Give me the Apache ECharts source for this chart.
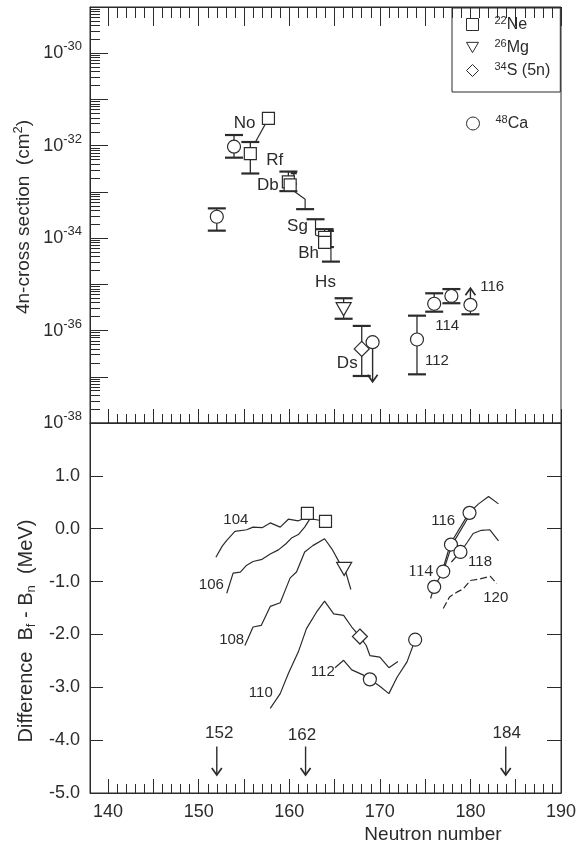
<!DOCTYPE html>
<html>
<head>
<meta charset="utf-8">
<script src="https://cdn.jsdelivr.net/npm/echarts@6/dist/echarts.min.js"></script>
<style>
html, body { margin: 0; padding: 0; background: #fff; }
#chart { width: 580px; height: 850px; }
</style>
</head>
<body>
<div id="chart"></div>
<script>
const INK = '#2b2b2b';
const FONT = '"Liberation Sans", Arial, sans-serif';
const SERIF = '"Liberation Serif", "Times New Roman", serif';

// ---- upper panel: 4n cross section (cm^2) vs neutron number ----
const ne22Top = [[155.7, 6.7e-33], [157.7, 3.9e-32], [159.9, 1.64e-33], [160.1, 1.42e-33], [163.9, 1.03e-34], [163.9, 8.1e-35]];
const mg26Top = [[166.0, 2.9e-36]];
const s34Top = [[168.0, 4.0e-37]];
const ca48Top = [[152.0, 2.9e-34], [153.9, 9.5e-33], [169.2, 5.6e-37], [174.1, 6.4e-37], [176.0, 3.8e-36], [177.9, 5.6e-36], [180.0, 3.6e-36]];
// error bars [N, low, high], caps at both ends
const errTop = [[152.0, 1.45e-34, 4.4e-34], [153.9, 5.5e-33, 1.7e-32], [155.7, 2.5e-33, 1.2e-32], [159.9, 1.04e-33, 2.75e-33],
  [166.0, 1.8e-36, 5.0e-36], [168.0, 1.04e-37, 1.26e-36], [174.1, 1.13e-37, 2.1e-36], [176.0, 2.56e-36, 6.4e-36], [177.9, 3.9e-36, 7.9e-36]];
const errTopSmall = [[160.5, 1.49e-33, 2.54e-33], [164.6, 6.4e-35, 1.43e-34]];
// joining lines and single caps
const linksTop = [
  [[157.7, 3.9e-32], [156.3, 1.23e-32]],
  [[160.5, 1.04e-33], [161.75, 6.95e-34], [161.75, 4.23e-34]],
  [[162.9, 2.56e-34], [162.9, 1.17e-34], [163.5, 1.05e-34]],
  [[163.9, 1.03e-34], [163.9, 1.56e-34]],
  [[164.6, 6.4e-35], [164.6, 3.1e-35]],
  [[180.0, 3.6e-36], [180.0, 2.25e-36]]
];
const capsTop = [[161.75, 4.23e-34], [162.9, 2.56e-34], [163.9, 1.56e-34], [164.6, 3.1e-35], [180.0, 2.25e-36]];
const arrowsTop = [[169.2, 5.6e-37, 7.8e-38], [180.0, 3.6e-36, 8.2e-36]];
const elemLabels = [[155.07, 3.07e-32, 'No'], [158.39, 4.8e-33, 'Rf'], [157.63, 1.36e-33, 'Db'], [160.91, 1.77e-34, 'Sg'],
  [162.14, 4.8e-35, 'Bh'], [164.0, 1.1e-35, 'Hs'], [166.4, 1.96e-37, 'Ds']];
const zLabelsTop = [[176.3, 2.2e-37, '112'], [177.43, 1.27e-36, '114'], [182.4, 8.9e-36, '116']];

// ---- lower panel: Bf - Bn (MeV) ----
const line104 = [[151.9, -0.54], [152.6, -0.33], [153.1, -0.22], [154.0, -0.05], [155.3, -0.02], [156.0, 0.03], [157.0, 0.02], [157.9, 0.11], [159.0, 0.03], [159.9, 0.18], [161.0, 0.15], [161.6, 0.19], [162.0, 0.29]];
const line106 = [[153.1, -1.22], [153.8, -0.84], [154.6, -0.82], [155.3, -0.69], [156.0, -0.62], [157.0, -0.58], [157.9, -0.48], [158.8, -0.40], [159.6, -0.29], [160.3, -0.17], [161.0, -0.11], [161.7, 0.03], [162.3, 0.19], [163.0, 0.17], [164.0, 0.14]];
const line108 = [[155.1, -2.21], [156.0, -1.86], [156.9, -1.83], [157.9, -1.47], [159.0, -1.40], [159.7, -1.10], [160.1, -0.93], [160.8, -0.82], [161.7, -0.44], [162.6, -0.32], [163.9, -0.19], [164.7, -0.38], [165.6, -0.66], [166.1, -0.74], [166.8, -1.15]];
const line110 = [[157.9, -3.40], [159.0, -3.12], [159.9, -2.74], [161.0, -2.33], [161.9, -1.89], [163.0, -1.58], [163.9, -1.37], [164.9, -1.61], [166.0, -1.64], [166.9, -1.86], [167.8, -2.04], [168.5, -2.21], [168.9, -2.40], [170.0, -2.43], [171.0, -2.63], [172.0, -2.51]];
const line112 = [[165.05, -2.63], [166.0, -2.49], [166.9, -2.67], [168.2, -2.77], [168.9, -2.85], [170.0, -2.98], [171.0, -3.12], [171.9, -2.81], [173.0, -2.52], [173.9, -2.10]];
const line114 = [[175.6, -1.32], [176.0, -1.10], [177.0, -0.81], [177.95, -0.31], [179.95, 0.27]];
const line116 = [[176.9, -0.80], [177.8, -0.28], [179.85, 0.30], [180.9, 0.47], [182.0, 0.61], [183.1, 0.47]];
const line118 = [[177.9, -0.63], [178.9, -0.44], [179.6, -0.27], [180.3, -0.09], [181.2, -0.03], [182.15, -0.02], [183.1, -0.23]];
const line120 = [[177.0, -1.51], [177.7, -1.29], [178.5, -1.20], [179.2, -1.14], [180.0, -0.98], [181.05, -0.95], [182.2, -0.90], [182.9, -1.04]];
const ne22Bot = [[162.0, 0.29], [164.0, 0.14]];
const mg26Bot = [[166.06, -0.76]];
const s34Bot = [[167.8, -2.04]];
const ca48Bot = [[168.9, -2.85], [173.9, -2.10], [176.0, -1.10], [177.0, -0.81], [177.85, -0.30], [178.9, -0.44], [179.9, 0.30]];
const shellArrows = [[152.0, -4.12, -4.66], [161.8, -4.12, -4.66], [183.9, -4.12, -4.66]];
const shellLabels = [[152.26, -3.87, '152'], [161.4, -3.90, '162'], [184.0, -3.87, '184']];
const zLabelsBot = [[154.1, 0.16, '104'], [151.4, -1.07, '106'], [153.64, -2.10, '108'], [156.86, -3.10, '110'],
  [163.7, -2.71, '112'], [177.0, 0.14, '116'], [181.06, -0.62, '118'], [182.8, -1.30, '120']];
const serifLabels = [[174.5, -0.81, '114']];

// axis ticks
const majorX = []; for (let n = 140; n <= 190; n += 5) majorX.push(n);
const minorX = []; for (let n = 140; n <= 190; n++) if (n % 5) minorX.push(n);
const labelX = [140, 150, 160, 170, 180, 190];
const decades = []; for (let d = -38; d <= -29; d++) decades.push(d);
const minorLog = []; for (let d = -38; d < -29; d++) for (let k = 2; k <= 9; k++) minorLog.push(d + Math.log10(k));

const lg = v => Math.log10(v);
const toLog = pts => pts.map(p => [p[0], lg(p[1])]);

function errSeries(data, capHalf, xi, yi, isLog) {
    return {
        type: 'custom', xAxisIndex: xi, yAxisIndex: yi, z: 3, silent: true,
        data: data.map(d => isLog ? [d[0], lg(d[1]), lg(d[2])] : d),
        encode: { x: 0, y: [1, 2] },
        renderItem: function (params, api) {
            const x = api.value(0);
            const lo = api.coord([x, api.value(1)]);
            const hi = api.coord([x, api.value(2)]);
            const cs = { stroke: INK, lineWidth: 2.2 };
            return {
                type: 'group', children: [
                    { type: 'line', shape: { x1: lo[0], y1: lo[1], x2: hi[0], y2: hi[1] }, style: { stroke: INK, lineWidth: 1.3 } },
                    { type: 'line', shape: { x1: lo[0] - capHalf, y1: lo[1], x2: lo[0] + capHalf, y2: lo[1] }, style: cs },
                    { type: 'line', shape: { x1: hi[0] - capHalf, y1: hi[1], x2: hi[0] + capHalf, y2: hi[1] }, style: cs }
                ]
            };
        }
    };
}

function capSeries(data, capHalf, xi, yi) {
    return {
        type: 'custom', xAxisIndex: xi, yAxisIndex: yi, z: 3, silent: true,
        data: toLog(data), encode: { x: 0, y: 1 },
        renderItem: function (params, api) {
            const p = api.coord([api.value(0), api.value(1)]);
            return { type: 'line', shape: { x1: p[0] - capHalf, y1: p[1], x2: p[0] + capHalf, y2: p[1] }, style: { stroke: INK, lineWidth: 2.2 } };
        }
    };
}

function arrowSeries(data, xi, yi, isLog) {
    return {
        type: 'custom', xAxisIndex: xi, yAxisIndex: yi, z: 3, silent: true,
        data: data.map(d => isLog ? [d[0], lg(d[1]), lg(d[2])] : d),
        encode: { x: 0, y: [1, 2] },
        renderItem: function (params, api) {
            const a = api.coord([api.value(0), api.value(1)]);
            const b = api.coord([api.value(0), api.value(2)]);
            const dir = b[1] > a[1] ? 1 : -1;
            return {
                type: 'group', children: [
                    { type: 'line', shape: { x1: a[0], y1: a[1], x2: b[0], y2: b[1] }, style: { stroke: INK, lineWidth: 1.4 } },
                    { type: 'polyline', shape: { points: [[b[0] - 5, b[1] - dir * 7], [b[0], b[1]], [b[0] + 5, b[1] - dir * 7]] },
                      style: { stroke: INK, lineWidth: 1.7, fill: null } }
                ]
            };
        }
    };
}

function textSeries(items, xi, yi, isLog, size, family) {
    return {
        type: 'custom', xAxisIndex: xi, yAxisIndex: yi, z: 6, silent: true,
        data: items.map(d => [d[0], isLog ? lg(d[1]) : d[1]]),
        encode: { x: 0, y: 1 },
        renderItem: function (params, api) {
            const p = api.coord([api.value(0), api.value(1)]);
            return {
                type: 'text', x: p[0], y: p[1],
                style: { text: items[params.dataIndex][2], fontSize: size, fontFamily: family, fill: INK, align: 'center', verticalAlign: 'middle' }
            };
        }
    };
}

function markerSeries(name, data, symbol, size, rotate, xi, yi) {
    return {
        name: name, type: 'scatter', xAxisIndex: xi, yAxisIndex: yi, z: 5, silent: true,
        symbol: symbol, symbolSize: size, symbolRotate: rotate, data: data,
        itemStyle: { color: '#fff', borderColor: INK, borderWidth: 1.2, opacity: 1 }
    };
}

function curve(data, dashed) {
    return {
        type: 'line', xAxisIndex: 4, yAxisIndex: 2, z: 2, silent: true, symbol: 'none', data: data,
        lineStyle: { color: INK, width: 1.2, type: dashed ? [7, 3] : 'solid' }
    };
}

const tickStyle = { color: INK, width: 1 };
function xAx(grid, pos, ticks, len, withLine) {
    return {
        gridIndex: grid, type: 'value', min: 138, max: 190, position: pos,
        axisLine: { show: withLine, onZero: false, lineStyle: { color: INK, width: 1 } },
        axisTick: { show: true, inside: true, length: len, customValues: ticks, lineStyle: tickStyle },
        axisLabel: { show: false }, splitLine: { show: false }
    };
}

const xAxes = [
    xAx(0, 'bottom', majorX, 14, true),
    xAx(0, 'bottom', minorX, 9, false),
    xAx(0, 'top', majorX, 19, true),
    xAx(0, 'top', minorX, 11, false),
    xAx(1, 'bottom', majorX, 14, true),
    xAx(1, 'bottom', minorX, 9, false)
];
xAxes[4].axisLabel = { show: true, customValues: labelX, margin: 10, fontSize: 18, fontFamily: FONT, color: INK };

const supRich = {
    b: { fontSize: 18, fontFamily: FONT, color: INK, lineHeight: 22 },
    s: { fontSize: 13, fontFamily: FONT, color: INK, lineHeight: 13, padding: [0, 0, 13, 0] }
};

const legendRich = {
    s: { fontSize: 11, fontFamily: FONT, color: INK, lineHeight: 12, padding: [0, 0, 8, 11] },
    b: { fontSize: 16, fontFamily: FONT, color: INK, lineHeight: 20 }
};
const legendText = { '22Ne': '{s|22}{b|Ne}', '26Mg': '{s|26}{b|Mg}', '34S (5n)': '{s|34}{b|S (5n)}', '48Ca': '{s|48}{b|Ca}' };
const legendItem = { color: '#fff', borderColor: INK, borderWidth: 1 };

const option = {
    animation: false,
    backgroundColor: '#fff',
    grid: [
        { left: 90, top: 7, width: 471, height: 416, show: true, borderColor: INK, borderWidth: 1, backgroundColor: 'transparent' },
        { left: 90, top: 423, width: 471, height: 370, show: true, borderColor: INK, borderWidth: 1, backgroundColor: 'transparent' }
    ],
    legend: [
        {
            left: 452, top: 8, orient: 'vertical',
            data: [
                { name: '22Ne', icon: 'rect' },
                { name: '26Mg', icon: 'path://M0,0 L14,0 L7,12 Z' },
                { name: '34S (5n)', icon: 'diamond' }
            ],
            itemWidth: 12, itemHeight: 12, itemGap: 4, padding: [7, 10, 12, 14], itemStyle: legendItem,
            borderColor: INK, borderWidth: 1, selectedMode: false,
            formatter: n => legendText[n], textStyle: { rich: legendRich }
        },
        {
            left: 466, top: 114, orient: 'vertical', data: [{ name: '48Ca', icon: 'circle' }],
            itemWidth: 13, itemHeight: 13, padding: 0, selectedMode: false, itemStyle: legendItem,
            formatter: n => legendText[n], textStyle: { rich: legendRich }
        }
    ],
    xAxis: xAxes,
    yAxis: [
        {
            gridIndex: 0, type: 'value', min: -38, max: -29, position: 'left',
            axisLine: { show: true, onZero: false, lineStyle: { color: INK } },
            axisTick: { show: true, inside: true, length: 18, customValues: decades, lineStyle: tickStyle },
            axisLabel: { customValues: [-38, -36, -34, -32, -30], margin: 8, formatter: v => '{b|10}{s|' + Math.round(v) + '}', rich: supRich },
            splitLine: { show: false }
        },
        {
            gridIndex: 0, type: 'value', min: -38, max: -29, position: 'left',
            axisLine: { show: false, onZero: false },
            axisTick: { show: true, inside: true, length: 10, customValues: minorLog, lineStyle: tickStyle },
            axisLabel: { show: false }, splitLine: { show: false }
        },
        {
            gridIndex: 1, type: 'value', min: -5, max: 2, interval: 1, position: 'left',
            axisLine: { show: true, onZero: false, lineStyle: { color: INK } },
            axisTick: { show: true, inside: true, length: 13, lineStyle: tickStyle },
            axisLabel: { margin: 10, fontSize: 18, fontFamily: FONT, color: INK, formatter: v => v >= 2 ? '' : v.toFixed(1) },
            splitLine: { show: false }
        },
        {
            gridIndex: 1, type: 'value', min: -5, max: 2, interval: 1, position: 'right',
            axisLine: { show: true, onZero: false, lineStyle: { color: INK } },
            axisTick: { show: true, inside: true, length: 14, lineStyle: tickStyle },
            axisLabel: { show: false }, splitLine: { show: false }
        }
    ],
    graphic: [
        {
            type: 'text', x: 24, y: 217, rotation: Math.PI / 2, silent: true,
            style: {
                text: '{t|4n-cross section  (cm}{s|2}{t|)}', align: 'center', verticalAlign: 'middle',
                rich: {
                    t: { fontSize: 19, fontFamily: FONT, fill: INK, lineHeight: 24 },
                    s: { fontSize: 13, fontFamily: FONT, fill: INK, lineHeight: 13, padding: [0, 0, 12, 0] }
                }
            }
        },
        {
            type: 'text', x: 26, y: 631, rotation: Math.PI / 2, silent: true,
            style: {
                text: '{t|Difference  B}{u|f}{t| - B}{u|n}{t|  (MeV)}', align: 'center', verticalAlign: 'middle',
                rich: {
                    t: { fontSize: 20, fontFamily: FONT, fill: INK, lineHeight: 24 },
                    u: { fontSize: 13, fontFamily: FONT, fill: INK, lineHeight: 13, padding: [11, 0, 0, 0] }
                }
            }
        },
        {
            type: 'text', x: 433, y: 835, silent: true,
            style: { text: 'Neutron number', fontSize: 19, fontFamily: FONT, fill: INK, align: 'center', verticalAlign: 'middle' }
        }
    ],
    series: [
        // upper panel
        ...linksTop.map(pts => ({
            type: 'line', xAxisIndex: 0, yAxisIndex: 0, z: 2, silent: true, symbol: 'none',
            data: toLog(pts), lineStyle: { color: INK, width: 1.2 }
        })),
        errSeries(errTop, 9, 0, 0, true),
        errSeries(errTopSmall, 3, 0, 0, true),
        capSeries(capsTop, 9, 0, 0),
        arrowSeries(arrowsTop, 0, 0, true),
        markerSeries('22Ne', toLog(ne22Top), 'rect', 12, 0, 0, 0),
        markerSeries('26Mg', toLog(mg26Top), 'triangle', [15, 13], 180, 0, 0),
        markerSeries('34S (5n)', toLog(s34Top), 'diamond', 15, 0, 0, 0),
        markerSeries('48Ca', toLog(ca48Top), 'circle', 13, 0, 0, 0),
        textSeries(elemLabels, 0, 0, true, 17, FONT),
        textSeries(zLabelsTop, 0, 0, true, 15, FONT),
        // lower panel
        curve(line104), curve(line106), curve(line108), curve(line110), curve(line112),
        curve(line114), curve(line116), curve(line118), curve(line120, true),
        markerSeries('22Ne', ne22Bot, 'rect', 12, 0, 4, 2),
        markerSeries('26Mg', mg26Bot, 'triangle', [15, 13], 180, 4, 2),
        markerSeries('34S (5n)', s34Bot, 'diamond', 15, 0, 4, 2),
        markerSeries('48Ca', ca48Bot, 'circle', 13, 0, 4, 2),
        arrowSeries(shellArrows, 4, 2, false),
        textSeries(shellLabels, 4, 2, false, 17, FONT),
        textSeries(zLabelsBot, 4, 2, false, 15, FONT),
        textSeries(serifLabels, 4, 2, false, 17, SERIF)
    ]
};

const chart = echarts.init(document.getElementById('chart'));
chart.setOption(option);
</script>
</body>
</html>
